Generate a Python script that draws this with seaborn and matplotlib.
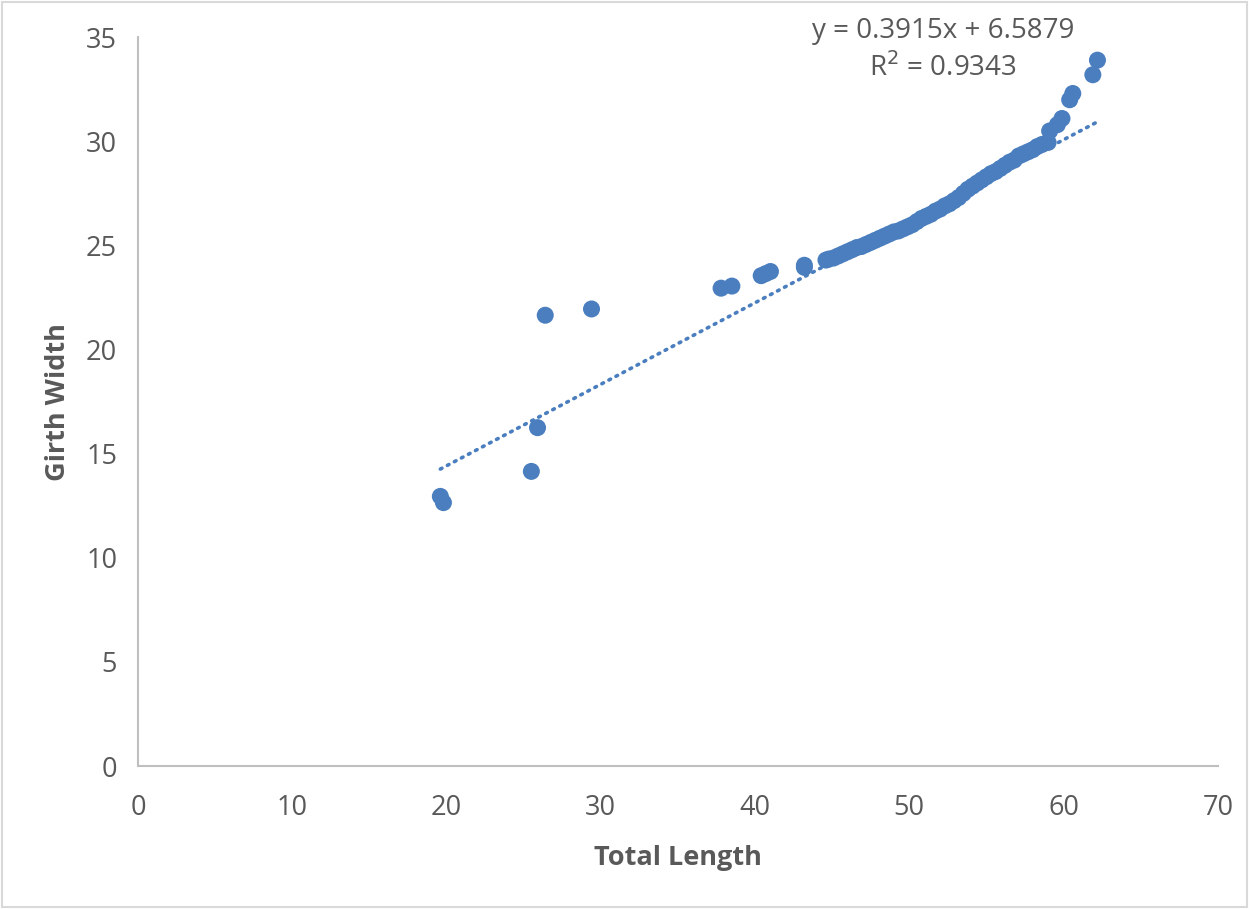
import matplotlib
matplotlib.use("Agg")
import matplotlib.pyplot as plt
import seaborn as sns
import pandas as pd
import numpy as np
from matplotlib.patches import Rectangle

# Measurements: total length vs girth width
total_length = [
    19.6, 19.8, 25.5, 25.9, 26.4, 29.4, 37.8, 38.5, 40.4, 40.7, 41.0, 43.2, 43.2, 44.6,
    44.8, 45.1, 45.4, 45.7, 46.0, 46.3, 46.6, 46.9, 47.2, 47.5, 47.8, 48.1, 48.4, 48.7,
    49.0, 49.3, 49.6, 49.9, 50.2, 50.5, 50.8, 51.1, 51.4, 51.7, 52.0, 52.3, 52.6, 52.9,
    53.2, 53.5, 53.8, 54.1, 54.4, 54.7, 55.0, 55.3, 55.6, 55.9, 56.2, 56.5, 56.8, 57.1,
    57.4, 57.7, 58.0, 58.3, 58.6,
    59.0, 59.1, 59.6, 59.9, 60.4, 60.6, 61.9, 62.2,
]
girth_width = [
    12.95, 12.65, 14.15, 16.25, 21.65, 21.95, 22.95, 23.05, 23.55, 23.65, 23.75, 24.05, 23.95, 24.3,
    24.35, 24.4, 24.5, 24.6, 24.7, 24.8, 24.9, 24.95, 25.05, 25.15, 25.25, 25.35, 25.45, 25.55,
    25.65, 25.7, 25.8, 25.9, 26.0, 26.15, 26.3, 26.4, 26.5, 26.65, 26.75, 26.9, 27.0, 27.15,
    27.3, 27.5, 27.7, 27.85, 28.0, 28.15, 28.3, 28.45, 28.55, 28.7, 28.85, 29.0, 29.1, 29.3,
    29.4, 29.5, 29.6, 29.75, 29.85,
    29.95, 30.5, 30.8, 31.1, 32.0, 32.3, 33.2, 33.9,
]

# Linear trendline coefficients
slope = 0.3915
intercept = 6.5879
r_squared = 0.9343

x_ticks = [0, 10, 20, 30, 40, 50, 60, 70]
y_ticks = [0, 5, 10, 15, 20, 25, 30, 35]

point_color = "#4A7EBF"
text_color = "#595959"
spine_color = "#BFBFBF"

sns.set_theme(style="white")
plt.rcParams["font.family"] = ["Open Sans", "DejaVu Sans"]

df = pd.DataFrame({"Total Length": total_length, "Girth Width": girth_width})

fig = plt.figure(figsize=(12.49, 9.09), dpi=100)
ax = fig.add_axes([0.1105, 0.1573, 0.8645, 0.8017])

sns.scatterplot(data=df, x="Total Length", y="Girth Width", ax=ax,
                color=point_color, s=150, edgecolor="none", linewidth=0, zorder=3)

x_min, x_max = min(total_length), max(total_length)
trend_x = np.array([x_min, x_max])
ax.plot(trend_x, slope * trend_x + intercept, color=point_color,
        linestyle=(0, (0.5, 1.7)), linewidth=2.6, dash_capstyle="round", zorder=2)

ax.set_xlim(0, 70)
ax.set_ylim(0, 35)
ax.set_xticks(x_ticks)
ax.set_yticks(y_ticks)
ax.tick_params(axis="both", length=0, labelsize=19.5, labelcolor=text_color)
ax.tick_params(axis="x", pad=20)
ax.tick_params(axis="y", pad=15)

for side in ["top", "right"]:
    ax.spines[side].set_visible(False)
for side in ["left", "bottom"]:
    ax.spines[side].set_color(spine_color)
    ax.spines[side].set_linewidth(1.5)

ax.set_xlabel("Total Length", fontsize=19.5, fontweight="bold", color=text_color, labelpad=17)
ax.set_ylabel("Girth Width", fontsize=19.5, fontweight="bold", color=text_color, labelpad=11)

fig.text(943 / 1249, 1 - 31 / 909, f"y = {slope}x + {intercept}", ha="center", va="center",
         fontsize=20, color=text_color)
fig.text(943 / 1249, 1 - 68 / 909, f"R$^2$ = {r_squared}", ha="center", va="center",
         fontsize=20, color=text_color)

fig.patches.append(Rectangle((0.002, 0.002), 0.996, 0.996, transform=fig.transFigure,
                             fill=False, edgecolor="#D9D9D9", linewidth=1.5))

fig.savefig("out.png", dpi=100, facecolor="white")
